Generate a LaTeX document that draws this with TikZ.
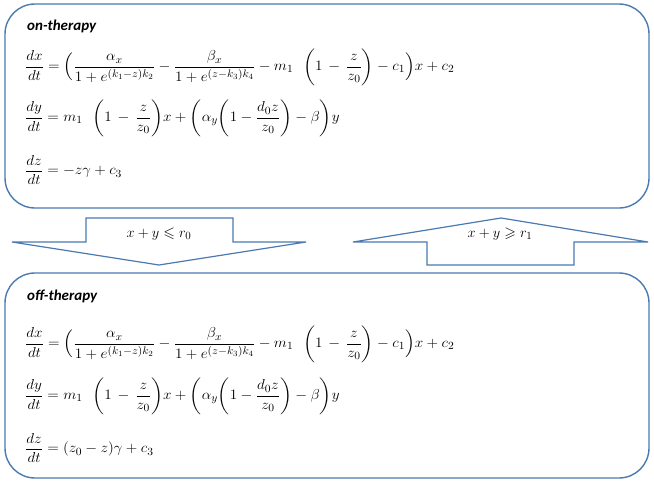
\documentclass[tikz,border=0pt]{standalone}
\usepackage{fontspec}
\usepackage{amsmath,amssymb,graphicx}
\newfontfamily\labelfont{Carlito}
\definecolor{boxline}{RGB}{74,122,176}
\newcommand{\wideeq}[1]{\scalebox{1.055}[1]{$\displaystyle #1$}}
\begin{document}
\begin{tikzpicture}[x=1pt,y=-1pt,
  panel/.style={draw=boxline,line width=1.4pt,rounded corners=30pt},
  arrowshape/.style={draw=boxline,line width=1.2pt,fill=white,line join=miter},
  title/.style={anchor=west,inner sep=0pt,font=\labelfont\fontsize{15}{17}\selectfont\bfseries\itshape},
  eqn/.style={anchor=west,inner sep=0pt,font=\fontsize{15.4}{18}\selectfont},
  cond/.style={inner sep=0pt,font=\fontsize{15}{17}\selectfont}]
\useasboundingbox (0,0) rectangle (654,485);
% top panel
\draw[panel] (5,4) rectangle (649,208);
\node[title] (on) at (27,26) {on-therapy};
\node[eqn] (e1) at (25,67) {\wideeq{\frac{dx}{dt}=\Bigl(\frac{\alpha_x}{1+e^{(k_1-z)k_2}}-\frac{\beta_x}{1+e^{(z-k_3)k_4}}-m_1\ \ \biggl(1\,-\,\frac{z}{z_0}\biggr)-c_1\Bigr)x+c_2}};
\node[eqn] (e2) at (25,118) {\wideeq{\frac{dy}{dt}=m_1\ \ \biggl(1\,-\,\frac{z}{z_0}\biggr)x+\biggl(\alpha_y\biggl(1-\frac{d_0z}{z_0}\biggr)-\beta\biggr)y}};
\node[eqn] (e3) at (25,170) {\wideeq{\frac{dz}{dt}=-z\gamma+c_3}};
% bottom panel
\draw[panel] (5,273) rectangle (649,478);
\node[title] (off) at (27,296) {off-therapy};
\node[eqn] (f1) at (25,344) {\wideeq{\frac{dx}{dt}=\Bigl(\frac{\alpha_x}{1+e^{(k_1-z)k_2}}-\frac{\beta_x}{1+e^{(z-k_3)k_4}}-m_1\ \ \biggl(1\,-\,\frac{z}{z_0}\biggr)-c_1\Bigr)x+c_2}};
\node[eqn] (f2) at (25,396) {\wideeq{\frac{dy}{dt}=m_1\ \ \biggl(1\,-\,\frac{z}{z_0}\biggr)x+\biggl(\alpha_y\biggl(1-\frac{d_0z}{z_0}\biggr)-\beta\biggr)y}};
\node[eqn] (f3) at (25,448) {\wideeq{\frac{dz}{dt}=(z_0-z)\gamma+c_3}};
% down arrow
\draw[arrowshape] (12,242) -- (86,242) -- (86,218) -- (233,218) -- (233,242) -- (306,242) -- (159,265) -- cycle;
\node[cond] (down) at (159,234) {$x+y\leqslant r_0$};
% up arrow
\draw[arrowshape] (353,242) -- (427,242) -- (427,265) -- (574,265) -- (574,242) -- (648,242) -- (501,218) -- cycle;
\node[cond] (up) at (500,234) {$x+y\geqslant r_1$};
\end{tikzpicture}
\end{document}
